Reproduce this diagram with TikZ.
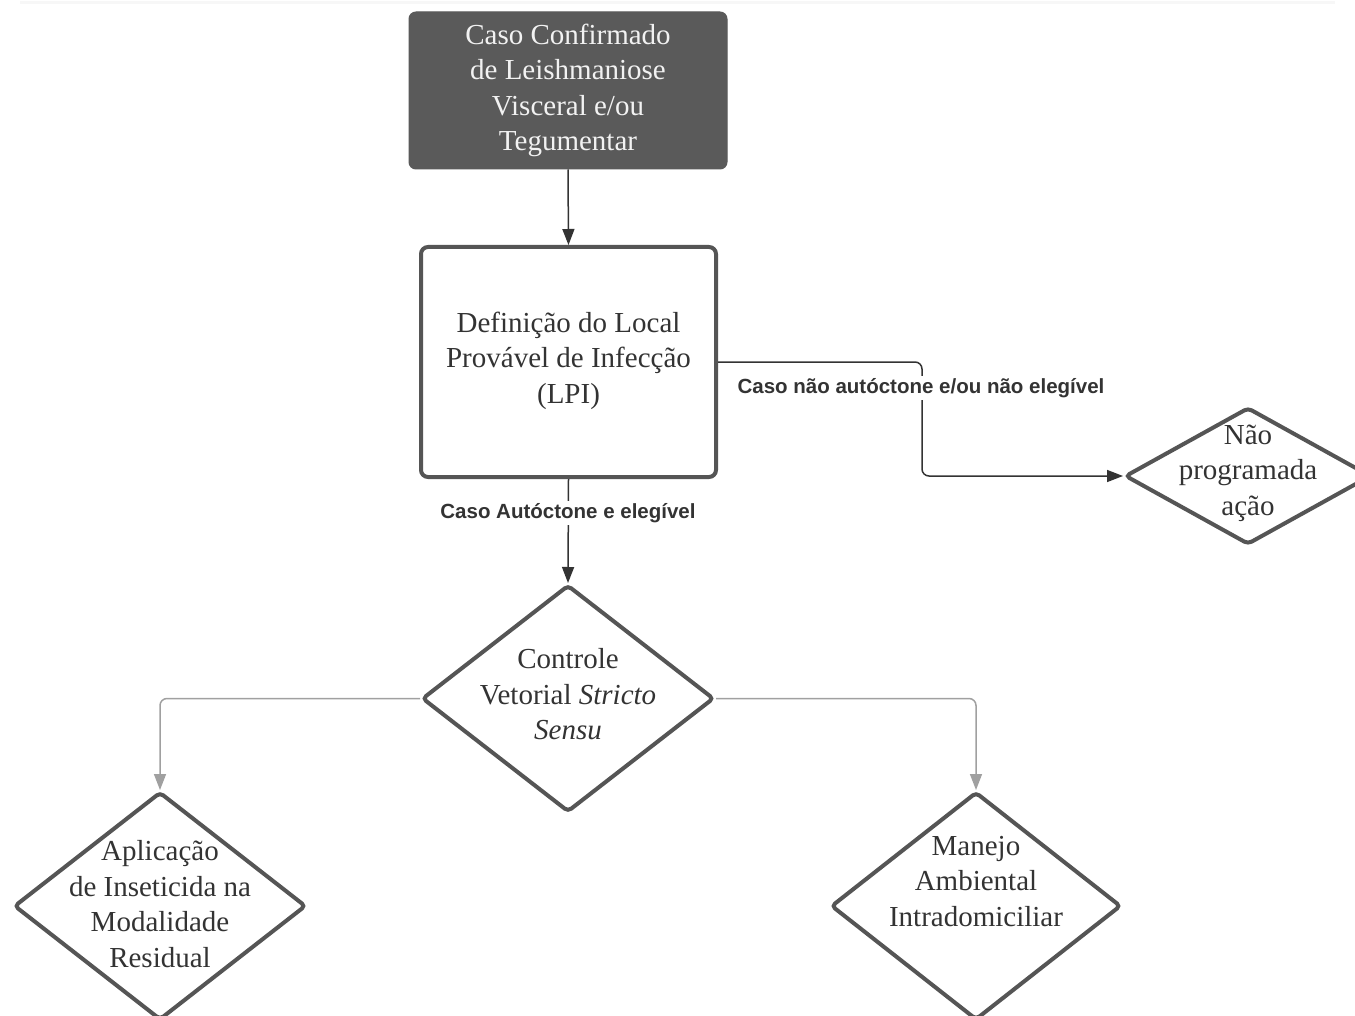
\documentclass[tikz,border=0pt]{standalone}
\usepackage{fontspec}
\setmainfont{Liberation Serif}
\newfontfamily\lblfont{Liberation Sans}
\usetikzlibrary{arrows.meta,shapes.geometric,calc}
\definecolor{boxdark}{HTML}{5A5A5A}
\definecolor{edgegray}{HTML}{555555}
\definecolor{txtgray}{HTML}{333333}
\definecolor{linedark}{HTML}{333333}
\definecolor{linelight}{HTML}{A0A0A0}
\begin{document}
\begin{tikzpicture}[x=1pt,y=-1pt,
  bigtext/.style={font=\fontsize{29}{35.5}\selectfont, align=center, text=txtgray, inner sep=0pt},
  startbox/.style={draw=boxdark, fill=boxdark, rounded corners=7pt, line width=1pt},
  procbox/.style={draw=edgegray, fill=white, rounded corners=7pt, line width=4pt},
  decision/.style={shape=diamond, draw=edgegray, fill=white, line width=4pt, rounded corners=4pt, inner sep=0pt},
  edgelabel/.style={font=\lblfont\bfseries\fontsize{20.5}{24}\selectfont, text=txtgray, fill=white, inner sep=2pt},
  darkarrow/.style={draw=linedark, line width=1.5pt, -{Triangle[length=16pt,width=12pt]}, rounded corners=7pt},
  lightarrow/.style={draw=linelight, line width=1.5pt, -{Triangle[length=16pt,width=12pt]}, rounded corners=7pt}
]
\useasboundingbox (0,0) rectangle (1355,1016);
\fill[white] (0,0) rectangle (1355,1016);
\draw[black!3, line width=3pt] (20,3) -- (1335,3);

% nodes
\node[startbox, minimum width=318pt, minimum height=157pt] (start) at (568,90.5) {};
\node[bigtext, text=white!95!black] (starttext) at (568,90.5) {Caso Confirmado\\de Leishmaniose\\Visceral e/ou\\Tegumentar};

\node[procbox, minimum width=295pt, minimum height=230pt] (lpi) at (568.5,362) {};
\node[bigtext] (lpitext) at (568.5,360.5) {Definição do Local\\Provável de Infecção\\(LPI)};

\node[decision, minimum width=292pt, minimum height=227pt] (ctrl) at (568,698.5) {};
\node[bigtext] (ctrltext) at (568,694.5) {Controle\\Vetorial \textit{Stricto}\\\textit{Sensu}};

\node[decision, minimum width=246pt, minimum height=137pt] (nao) at (1248,476) {};
\node[bigtext] (naotext) at (1248,473) {Não\\programada\\ação};

\node[decision, minimum width=292pt, minimum height=228pt] (apl) at (160,906) {};
\node[bigtext] (apltext) at (160,904) {Aplicação\\de Inseticida na\\Modalidade\\Residual};

\node[decision, minimum width=290pt, minimum height=228pt] (man) at (976,906) {};
\node[bigtext] (mantext) at (976,881.5) {Manejo\\Ambiental\\Intradomiciliar};

% connectors
\draw[darkarrow] (start.south) -- (lpi.north);
\draw[darkarrow] (lpi.south) -- (ctrl.north);
\draw[darkarrow] (lpi.east) -- ++(204,0) |- (nao.west);
\draw[lightarrow] (ctrl.west) -| (apl.north);
\draw[lightarrow] (ctrl.east) -| (man.north);

% edge labels
\node[edgelabel] (lblauto) at (568,513) {Caso Autóctone e elegível};
\node[edgelabel] (lblnao) at (921,388) {Caso não autóctone e/ou não elegível};
\end{tikzpicture}
\end{document}
